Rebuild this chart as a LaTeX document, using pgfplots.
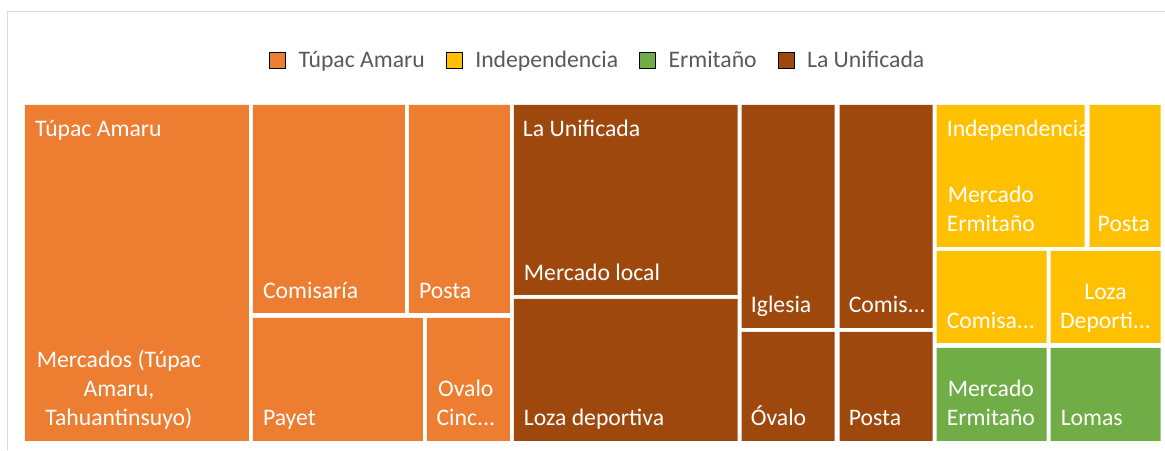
\documentclass[border=0pt]{standalone}
\usepackage{pgfplots}
\pgfplotsset{compat=1.18}
\usepackage{fontspec}
\setmainfont{Carlito}
\definecolor{tupac}{HTML}{ED7D31}
\definecolor{indep}{HTML}{FFC000}
\definecolor{ermi}{HTML}{70AD47}
\definecolor{unif}{HTML}{9E480E}
\definecolor{legtxt}{HTML}{595959}
\newcommand\cell[5]{\addplot[fill=#1,draw=none,forget plot] coordinates {(#2,#3) (#4,#3) (#4,#5) (#2,#5) (#2,#3)};}
\newcommand\lab[3]{\node[anchor=base west,inner sep=0pt,text=white] at (axis cs:#1,#2) {#3};}
\newcommand\clab[3]{\node[anchor=base,inner sep=0pt,text=white] at (axis cs:#1,#2) {#3};}
\begin{document}
\begin{tikzpicture}
\begin{axis}[
  width=1165bp, height=450bp, scale only axis,
  xmin=0, xmax=1165, ymin=0, ymax=450, y dir=reverse,
  hide axis, clip=false,
  font=\fontsize{23.8}{28}\selectfont,
  legend image code/.code={\fill[#1] (0bp,-8bp) rectangle (16bp,8bp);},
  legend style={at={(axis cs:598,60)}, anchor=center, draw=none, fill=none,
    text=legtxt, font=\fontsize{23.8}{28}\selectfont,
    /tikz/every odd column/.append style={column sep=11bp},
    /tikz/every even column/.append style={column sep=19bp}},
  legend columns=4,
]
% page extent (invisible)
\addplot[draw=none, forget plot] coordinates {(0,0) (1165,450)};
% frame
\addplot[draw=black!15, line width=1bp, forget plot] coordinates {(8,450) (8,12) (1165,12)};
% Tupac Amaru
\cell{tupac}{25}{105}{249}{441}
\cell{tupac}{253}{105}{405}{313}
\cell{tupac}{409}{105}{510}{313}
\cell{tupac}{253}{318}{423}{441}
\cell{tupac}{427}{318}{510}{441}
% La Unificada
\cell{unif}{514}{105}{738}{295}
\cell{unif}{514}{299}{738}{441}
\cell{unif}{742}{105}{835}{328}
\cell{unif}{840}{105}{933}{328}
\cell{unif}{742}{332}{835}{441}
\cell{unif}{840}{332}{933}{441}
% Independencia
\cell{indep}{937}{105}{1085}{247}
\cell{indep}{1090}{105}{1161}{247}
\cell{indep}{937}{251}{1047}{343}
\cell{indep}{1051}{251}{1161}{343}
% Ermitano
\cell{ermi}{937}{348}{1047}{441}
\cell{ermi}{1051}{348}{1161}{441}
% legend
\addlegendimage{fill=tupac}\addlegendentry{Túpac Amaru}
\addlegendimage{fill=indep}\addlegendentry{Independencia}
\addlegendimage{fill=ermi}\addlegendentry{Ermitaño}
\addlegendimage{fill=unif}\addlegendentry{La Unificada}
% labels
\lab{35}{137}{Túpac Amaru}
\clab{119}{368}{Mercados (Túpac}
\clab{119}{397}{Amaru,}
\clab{119}{426}{Tahuantinsuyo)}
\lab{263}{299}{Comisaría}
\lab{419}{299}{Posta}
\lab{263}{426}{Payet}
\clab{466}{397}{Ovalo}
\clab{466}{426}{Cinc...}
\lab{523}{137}{La Unificada}
\lab{524}{281}{Mercado local}
\lab{524}{426}{Loza deportiva}
\lab{751}{313}{Iglesia}
\lab{849}{313}{Comis...}
\lab{751}{426}{Óvalo}
\lab{849}{426}{Posta}
\lab{947}{137}{Independencia}
\lab{948}{203}{Mercado}
\lab{947}{232}{Ermitaño}
\lab{1098}{232}{Posta}
\lab{947}{329}{Comisa...}
\clab{1106}{300}{Loza}
\clab{1106}{329}{Deporti...}
\lab{948}{397}{Mercado}
\lab{947}{426}{Ermitaño}
\lab{1061}{426}{Lomas}
\end{axis}
\end{tikzpicture}
\end{document}
